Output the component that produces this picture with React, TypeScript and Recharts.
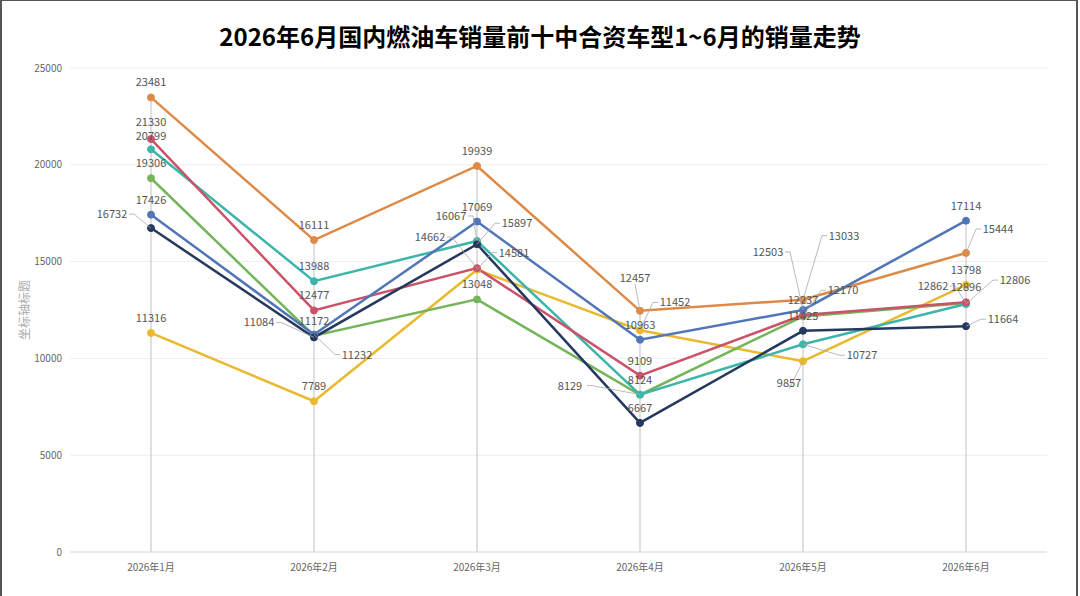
import React from "react";
import { CartesianGrid, LabelList, Line, LineChart, ReferenceLine, XAxis, YAxis } from "recharts";

const MONTHS = ["2026年1月", "2026年2月", "2026年3月", "2026年4月", "2026年5月", "2026年6月"];
const ORANGE = [23481, 16111, 19939, 12457, 13033, 15444];
const RED = [21330, 12477, 14662, 9109, 12237, 12896];
const TEAL = [20799, 13988, 16067, 8129, 10727, 12806];
const GREEN = [19306, 11172, 13048, 8124, 12170, 12862];
const BLUE = [17426, 11232, 17069, 10963, 12503, 17114];
const NAVY = [16732, 11084, 15897, 6667, 11425, 11664];
const YELLOW = [11316, 7789, 14581, 11452, 9857, 13798];
const Y_TICKS = [0, 5000, 10000, 15000, 20000, 25000];

const SERIES = [
  { key: "yellow", values: YELLOW, color: "#E9B92F" },
  { key: "green", values: GREEN, color: "#74B55A" },
  { key: "teal", values: TEAL, color: "#3DB5AA" },
  { key: "red", values: RED, color: "#CB5268" },
  { key: "orange", values: ORANGE, color: "#DE8A47" },
  { key: "blue", values: BLUE, color: "#5176B8" },
  { key: "navy", values: NAVY, color: "#25395F" },
];

const data = MONTHS.map((m, i) => {
  const row: Record<string, string | number> = { month: m };
  SERIES.forEach((s) => (row[s.key] = s.values[i]));
  row.max = Math.max(...SERIES.map((s) => s.values[i]));
  return row;
});

// label nudges (centre of text relative to the point), where labels would collide
const LABEL_SHIFT: Record<string, [number, number]> = {
  "red-0": [0, -17],
  "teal-0": [0, -13],
  "navy-0": [-39, -14],
  "navy-1": [-55, -15],
  "blue-1": [43, 20],
  "teal-2": [-26, -25],
  "navy-2": [40, -21],
  "red-2": [-47, -31],
  "yellow-2": [37, -17],
  "orange-3": [-5, -33],
  "yellow-3": [35, -28],
  "teal-3": [-70, -9],
  "orange-4": [41, -64],
  "blue-4": [-35, -58],
  "green-4": [40, -26],
  "teal-4": [59, 11],
  "yellow-4": [-14, 22],
  "orange-5": [32, -24],
  "green-5": [-33, -17],
  "teal-5": [49, -24],
  "navy-5": [37, -7],
};

function PointLabel(props: any) {
  const { x, y, value, index, series } = props;
  const shift = LABEL_SHIFT[`${series}-${index}`];
  const [dx, dy] = shift ?? [0, -15];
  const lx = x + dx;
  const ly = y + dy;
  let leader = null;
  if (Math.abs(dx) > 3 || dy < -20 || dy > 0) {
    const side = Math.abs(dx) > 20 ? Math.sign(dx) : 0;
    const ex = side === 0 ? lx : lx - side * 17;
    const ey = side === 0 ? ly + 6 : ly;
    leader = (
      <polyline
        points={`${x},${y} ${ex - side * 5},${ey} ${ex},${ey}`}
        fill="none"
        stroke="#aaa"
        strokeWidth={0.8}
      />
    );
  }
  return (
    <g>
      {leader}
      <text x={lx} y={ly} dy={4} textAnchor="middle" fontSize={11} fill="#555">
        {value}
      </text>
    </g>
  );
}

export default function App() {
  return (
    <div
      style={{
        position: "absolute",
        top: 0,
        left: 0,
        width: 1080,
        height: 596,
        background: "#fff",
        fontFamily: "'Noto Sans CJK SC', 'Noto Sans', sans-serif",
      }}
    >
      <div
        style={{
          position: "absolute",
          top: 18,
          left: 0,
          width: 1080,
          textAlign: "center",
          fontSize: 24,
          fontWeight: 700,
          color: "#000",
        }}
      >
        2026年6月国内燃油车销量前十中合资车型1~6月的销量走势
      </div>
      <LineChart width={1080} height={596} data={data} margin={{ top: 68, right: 33, bottom: 14, left: 0 }}>
        <CartesianGrid vertical={false} stroke="#eee" />
        <XAxis
          dataKey="month"
          padding={{ left: 81, right: 81 }}
          tickLine={false}
          axisLine={{ stroke: "#ddd" }}
          tick={{ fontSize: 10, fill: "#666" }}
          tickMargin={6}
        />
        <YAxis
          domain={[0, 25000]}
          ticks={Y_TICKS}
          width={70}
          axisLine={false}
          tickLine={false}
          tickSize={0}
          tickMargin={8}
          tick={{ fontSize: 10, fill: "#666" }}
          label={{ value: "坐标轴标题", angle: -90, position: "center", dx: -10, fontSize: 12, fill: "#aaa" }}
        />
        {MONTHS.map((m, i) => (
          <ReferenceLine
            key={m}
            segment={[
              { x: m, y: 0 },
              { x: m, y: data[i].max as number },
            ]}
            stroke="#ccc"
            strokeWidth={1.2}
          />
        ))}
        {SERIES.map((s) => (
          <Line
            key={s.key}
            dataKey={s.key}
            stroke={s.color}
            strokeWidth={2.5}
            dot={{ r: 3.5, fill: s.color, stroke: s.color, strokeWidth: 1 }}
            isAnimationActive={false}
          >
            <LabelList dataKey={s.key} content={(p: any) => <PointLabel {...p} series={s.key} />} />
          </Line>
        ))}
      </LineChart>
      <div
        style={{
          position: "absolute",
          top: 0,
          left: 0,
          width: 1078,
          height: 596,
          boxSizing: "border-box",
          borderTop: "1px solid #555",
          borderLeft: "2px solid #555",
          borderRight: "2px solid #555",
          pointerEvents: "none",
        }}
      />
    </div>
  );
}
